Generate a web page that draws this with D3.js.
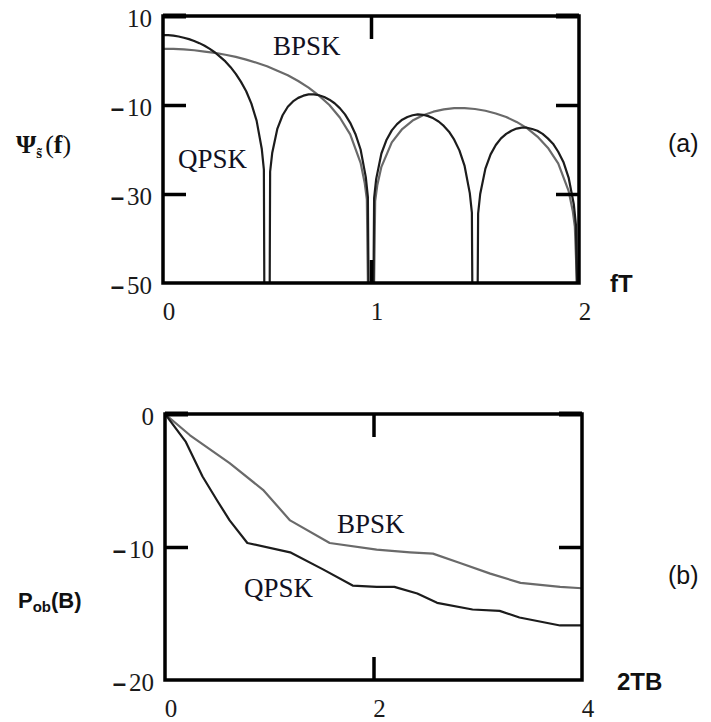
<!DOCTYPE html>
<html>
<head>
<meta charset="utf-8">
<script src="https://cdn.jsdelivr.net/npm/d3@7"></script>
<style>
  body { margin: 0; background: white; }
  svg { display: block; }
</style>
</head>
<body>
<div id="chart"></div>
<script>
/* CONSTANTS AND GLOBALS */
const width = 711;
const height = 722;
const bpsk_color = '#6a6a6a'
const qpsk_color = '#1c1c1c'

/* DATA */
// (a) power spectral density, dB vs fT
const bpskPsd = [
  [0, 2.6], [0.05, 2.6], [0.1, 2.5], [0.15, 2.3], [0.2, 2.0], [0.25, 1.7], [0.3, 1.3],
  [0.35, 0.8], [0.4, 0.2], [0.45, -0.5], [0.5, -1.3], [0.55, -2.3], [0.6, -3.3],
  [0.65, -4.6], [0.7, -6.1], [0.75, -7.9], [0.8, -10.0], [0.85, -12.8], [0.9, -16.6],
  [0.95, -23.0], [0.97, -27.6], [0.98, -31.2], [0.985, -50], [1.015, -50], [1.02, -31.6],
  [1.03, -28.1], [1.05, -23.9], [1.1, -18.4], [1.15, -15.4], [1.2, -13.5], [1.25, -12.3],
  [1.3, -11.5], [1.35, -11.0], [1.4, -10.7], [1.45, -10.7], [1.5, -10.9], [1.55, -11.3],
  [1.6, -11.9], [1.65, -12.7], [1.7, -13.8], [1.75, -15.2], [1.8, -17.1], [1.85, -19.6],
  [1.9, -23.1], [1.95, -29.3], [1.97, -33.8], [1.98, -37.3], [1.99, -50], [2.0, -50]
]
const qpskPsd = [
  [0, 5.7], [0.025, 5.7], [0.05, 5.6], [0.075, 5.4], [0.1, 5.1], [0.125, 4.8], [0.15, 4.4],
  [0.175, 3.9], [0.2, 3.3], [0.225, 2.6], [0.25, 1.8], [0.275, 0.8], [0.3, -0.2],
  [0.325, -1.5], [0.35, -3.0], [0.375, -4.8], [0.4, -6.9], [0.425, -9.7], [0.45, -13.5],
  [0.475, -19.9], [0.485, -24.5], [0.487, -50], [0.513, -50], [0.515, -25.0], [0.525, -20.8],
  [0.55, -15.3], [0.575, -12.3], [0.6, -10.4], [0.625, -9.2], [0.65, -8.4], [0.675, -7.9],
  [0.7, -7.6], [0.725, -7.6], [0.75, -7.8], [0.775, -8.2], [0.8, -8.8], [0.825, -9.6],
  [0.85, -10.7], [0.875, -12.1], [0.9, -14.0], [0.925, -16.5], [0.95, -20.0], [0.975, -26.2],
  [0.985, -30.7], [0.988, -50], [1.012, -50], [1.015, -30.9], [1.025, -26.6], [1.05, -20.9],
  [1.075, -17.8], [1.1, -15.7], [1.125, -14.3], [1.15, -13.3], [1.175, -12.7], [1.2, -12.3],
  [1.225, -12.1], [1.25, -12.2], [1.275, -12.5], [1.3, -13.0], [1.325, -13.7], [1.35, -14.7],
  [1.375, -16.0], [1.4, -17.8], [1.425, -20.2], [1.45, -23.7], [1.475, -29.8], [1.485, -34.2],
  [1.487, -50], [1.513, -50], [1.515, -34.4], [1.525, -30.0], [1.55, -24.3], [1.575, -21.1],
  [1.6, -19.0], [1.625, -17.5], [1.65, -16.5], [1.675, -15.8], [1.7, -15.3], [1.725, -15.1],
  [1.75, -15.1], [1.775, -15.4], [1.8, -15.8], [1.825, -16.5], [1.85, -17.5], [1.875, -18.7],
  [1.9, -20.5], [1.925, -22.8], [1.95, -26.3], [1.975, -32.3], [1.985, -36.8], [1.99, -50],
  [2.0, -50]
]
// (b) fractional out-of-band power, dB vs 2TB
const bpskPob = [
  [0, 0], [0.24, -1.6], [0.62, -3.7], [0.94, -5.7], [1.2, -8.0], [1.58, -9.7], [2.03, -10.2],
  [2.35, -10.4], [2.57, -10.5], [2.83, -11.2], [3.12, -12.0], [3.41, -12.7], [3.79, -13.0],
  [4, -13.1]
]
const qpskPob = [
  [0, 0], [0.2, -2.1], [0.36, -4.7], [0.5, -6.5], [0.62, -8.0], [0.79, -9.7], [1.2, -10.4],
  [1.52, -11.7], [1.8, -12.9], [2.03, -13.0], [2.2, -13.0], [2.42, -13.5], [2.61, -14.2],
  [2.95, -14.7], [3.21, -14.8], [3.4, -15.3], [3.79, -15.9], [4, -15.9]
]

const psdXTicks = [0, 1, 2]
const psdYTicks = [10, -10, -30, -50]
const pobXTicks = [0, 2, 4]
const pobYTicks = [0, -10, -20]

/* HTML ELEMENTS */
const svg = d3.select("#chart")
  .append("svg")
  .attr("width", width)
  .attr("height", height)
  .style("background-color", "white")

// draws one framed panel with inward ticks
function panel(id, box, xDomain, yDomain, xTicks, yTicks, series) {
  const x = d3.scaleLinear().domain(xDomain).range([box.left, box.right])
  const y = d3.scaleLinear().domain(yDomain).range([box.bottom, box.top])

  svg.append("clipPath").attr("id", id)
    .append("rect")
    .attr("x", box.left).attr("y", box.top - 2)
    .attr("width", box.right - box.left).attr("height", box.bottom - box.top + 2)

  const line = d3.line().x(d => x(d[0])).y(d => y(d[1]))
  svg.append("g")
    .attr("clip-path", `url(#${id})`)
    .selectAll("path")
    .data(series)
    .join("path")
    .attr("d", d => line(d.values))
    .attr("fill", "none")
    .attr("stroke", d => d.color)
    .attr("stroke-width", 2.2)
    .attr("stroke-linejoin", "round")

  const inner = yTicks.slice(1, -1)
  const innerX = xTicks.slice(1, -1)

  // ticks pointing inside the frame
  svg.append("g")
    .attr("transform", `translate(${box.left},0)`)
    .call(d3.axisLeft(y).tickValues(inner).tickSize(-23).tickFormat(""))
  svg.append("g")
    .attr("transform", `translate(${box.right},0)`)
    .call(d3.axisRight(y).tickValues(inner).tickSize(-23).tickFormat(""))
  svg.append("g")
    .attr("transform", `translate(0,${box.top})`)
    .call(d3.axisTop(x).tickValues(innerX).tickSize(-23).tickFormat(""))
  svg.append("g")
    .attr("transform", `translate(0,${box.bottom})`)
    .call(d3.axisBottom(x).tickValues(innerX).tickSize(-23).tickFormat(""))
  svg.selectAll(".domain").remove()
  svg.selectAll(".tick line").attr("stroke", "black").attr("stroke-width", 3.5)

  // corner nubs
  svg.append("line").attr("x1", box.left).attr("x2", box.left + 23)
    .attr("y1", box.top).attr("y2", box.top).attr("stroke", "black").attr("stroke-width", 5)
  svg.append("line").attr("x1", box.right - 23).attr("x2", box.right)
    .attr("y1", box.top).attr("y2", box.top).attr("stroke", "black").attr("stroke-width", 5)

  // frame
  svg.append("rect")
    .attr("x", box.left).attr("y", box.top)
    .attr("width", box.right - box.left).attr("height", box.bottom - box.top)
    .attr("fill", "none").attr("stroke", "black").attr("stroke-width", 3.5)

  // y tick labels
  const yl = svg.append("g")
    .attr("font-family", "'Liberation Serif', serif")
    .attr("font-size", 25)
    .attr("fill", "#1a1a1a")
    .attr("text-anchor", "end")
    .selectAll("text")
    .data(yTicks)
    .join("text")
    .attr("x", box.left - 11)
    .attr("y", d => y(d))
    .attr("dy", "0.42em")
  yl.filter(d => d < 0).append("tspan")
    .attr("font-weight", "bold")
    .attr("font-family", "'Liberation Sans', sans-serif")
    .attr("font-size", 24)
    .text("–")
  yl.append("tspan").attr("dx", d => d < 0 ? 3 : 0).text(d => Math.abs(d))

  // x tick labels
  svg.append("g")
    .attr("font-family", "'Liberation Serif', serif")
    .attr("font-size", 25)
    .attr("fill", "#1a1a1a")
    .attr("text-anchor", "middle")
    .selectAll("text")
    .data(xTicks)
    .join("text")
    .attr("x", d => x(d) + 6)
    .attr("y", box.bottom + 37)
    .text(d => d)

  return { x, y }
}

const a = panel("clipA", { left: 163, right: 579, top: 16, bottom: 283 }, [0, 2], [-50, 10],
  psdXTicks, psdYTicks,
  [{ values: bpskPsd, color: bpsk_color }, { values: qpskPsd, color: qpsk_color }])

const b = panel("clipB", { left: 165, right: 582, top: 414, bottom: 680 }, [0, 4], [-20, 0],
  pobXTicks, pobYTicks,
  [{ values: bpskPob, color: bpsk_color }, { values: qpskPob, color: qpsk_color }])

/* curve labels */
const serif = svg.append("g")
  .attr("font-family", "'Liberation Serif', serif")
  .attr("font-size", 27)
  .attr("fill", "#111122")
serif.append("text").attr("x", 273).attr("y", 55).text("BPSK")
serif.append("text").attr("x", 178).attr("y", 168).text("QPSK")
serif.append("text").attr("x", 337).attr("y", 533).text("BPSK")
serif.append("text").attr("x", 244).attr("y", 597).text("QPSK")

/* axis titles */
const psi = svg.append("text")
  .attr("x", 16).attr("y", 153)
  .attr("font-family", "'Liberation Serif', serif")
  .attr("font-weight", "bold")
  .attr("font-size", 26)
  .attr("fill", "#111")
psi.append("tspan").text("Ψ")
psi.append("tspan").attr("font-size", 15).attr("dy", 5).text("s̃")
psi.append("tspan").attr("dy", -5).attr("dx", 3).attr("font-weight", "normal").text("(")
psi.append("tspan").text("f")
psi.append("tspan").attr("font-weight", "normal").text(")")

const pob = svg.append("text")
  .attr("x", 18).attr("y", 608)
  .attr("font-family", "'Liberation Sans', Arial, sans-serif")
  .attr("font-weight", "bold")
  .attr("font-size", 22)
  .attr("fill", "#111")
pob.append("tspan").text("P")
pob.append("tspan").attr("font-size", 15).attr("dy", 4).text("ob")
pob.append("tspan").attr("dy", -4).text("(B)")

const sans = svg.append("g")
  .attr("font-family", "'Liberation Sans', Arial, sans-serif")
  .attr("fill", "#111")
sans.append("text").attr("x", 610).attr("y", 292)
  .attr("font-weight", "bold").attr("font-size", 24).text("fT")
sans.append("text").attr("x", 617).attr("y", 690)
  .attr("font-weight", "bold").attr("font-size", 24).text("2TB")
sans.append("text").attr("x", 668).attr("y", 152)
  .attr("font-size", 25).text("(a)")
sans.append("text").attr("x", 668).attr("y", 584)
  .attr("font-size", 25).text("(b)")
</script>
</body>
</html>
